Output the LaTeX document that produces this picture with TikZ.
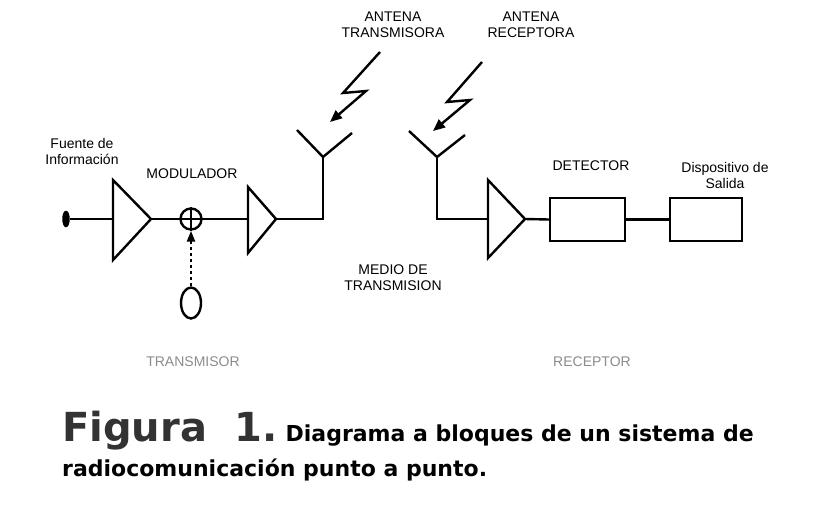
\documentclass[tikz,border=0pt]{standalone}
\usepackage{fontspec}
\setmainfont{Liberation Sans}
\newfontfamily\capfont{DejaVu Sans}
\usetikzlibrary{arrows.meta,shapes.geometric}
\begin{document}
\begin{tikzpicture}[x=1pt,y=-1pt,
  ln/.style={line width=2.4pt},
  lbl/.style={font=\fontsize{14}{16}\selectfont,align=center,inner sep=0},
  gl/.style={font=\fontsize{14}{16}\selectfont,text=black!45,inner sep=0},
  amp/.style={ln,line join=miter}]
\useasboundingbox (0,0) rectangle (813,509);
\fill[white] (0,0) rectangle (813,509);
% nodes
\node[ln,draw,fill=black,ellipse,minimum width=5,minimum height=14,inner sep=0] (src) at (66,219) {};
\coordinate (a1in) at (113,219); \coordinate (a1out) at (151,219);
\draw[amp] (113,180) -- (151,219) -- (113,260) -- cycle;
\node[ln,draw,circle,minimum size=21,inner sep=0] (mix) at (191,219) {};
\draw[ln] (mix.north) -- (mix.south) (mix.west) -- (mix.east);
\coordinate (a2in) at (248,219); \coordinate (a2out) at (276,219);
\draw[amp] (248,187) -- (276,219) -- (248,253) -- cycle;
\node[ln,draw,ellipse,minimum width=20,minimum height=31,inner sep=0] (osc) at (191,303) {};
\coordinate (t1) at (323,219); \coordinate (t1j) at (323,157);
\coordinate (r1) at (437,219); \coordinate (r1j) at (437,157);
\coordinate (a3in) at (488,219); \coordinate (a3out) at (525,219);
\draw[amp] (488,180) -- (525,219) -- (488,258) -- cycle;
\node[ln,draw,minimum width=75,minimum height=43,inner sep=0] (det) at (587.5,219.5) {};
\node[ln,draw,minimum width=72,minimum height=43,inner sep=0] (out) at (706,219.5) {};
% connectors
\draw[ln] (src) -- (a1in);
\draw[ln] (a1out) -- (mix.west);
\draw[ln] (mix.east) -- (a2in);
\draw[ln] (a2out) -- (t1) -- (t1j);
\draw[ln] (297,130) -- (t1j) -- (352,133);
\draw[ln,dashed,-{Triangle[length=11pt,width=8pt]}] (osc.north) -- (mix.south);
\draw[ln] (r1j) -- (r1) -- (a3in);
\draw[ln] (409,131) -- (r1j) -- (465,135);
\draw[ln] (a3out) -- (det.west);
\draw[ln] (det.east) -- (out.west);
% lightning
\draw[ln,-{Triangle[length=12pt,width=10pt]}] (380,52) -- (343,93) -- (366,91) -- (330,122);
\draw[ln,-{Triangle[length=12pt,width=10pt]}] (482,62) -- (447,102) -- (470,100) -- (433,131);
% labels
\node[lbl] (l1) at (393,25) {ANTENA\\TRANSMISORA};
\node[lbl] (l2) at (531,25) {ANTENA\\RECEPTORA};
\node[lbl] (l3) at (82,151) {Fuente de\\Información};
\node[lbl] (l4) at (192,174) {MODULADOR};
\node[lbl] (l5) at (591,166) {DETECTOR};
\node[lbl] (l6) at (725,175) {Dispositivo de\\Salida};
\node[lbl] (l7) at (393,278) {MEDIO DE\\TRANSMISION};
\node[gl] (l8) at (193,362) {TRANSMISOR};
\node[gl] (l9) at (592,362) {RECEPTOR};
\node[anchor=base west,inner sep=0,font=\capfont\bfseries\fontsize{22}{26}\selectfont] (cap1) at (62,441)
  {{\fontsize{40}{42}\selectfont\color{black!80}Figura\ \ 1.}\ Diagrama a bloques de un sistema de};
\node[anchor=base west,inner sep=0,font=\capfont\bfseries\fontsize{22}{26}\selectfont] (cap2) at (62,476)
  {radiocomunicación punto a punto.};
\end{tikzpicture}
\end{document}
